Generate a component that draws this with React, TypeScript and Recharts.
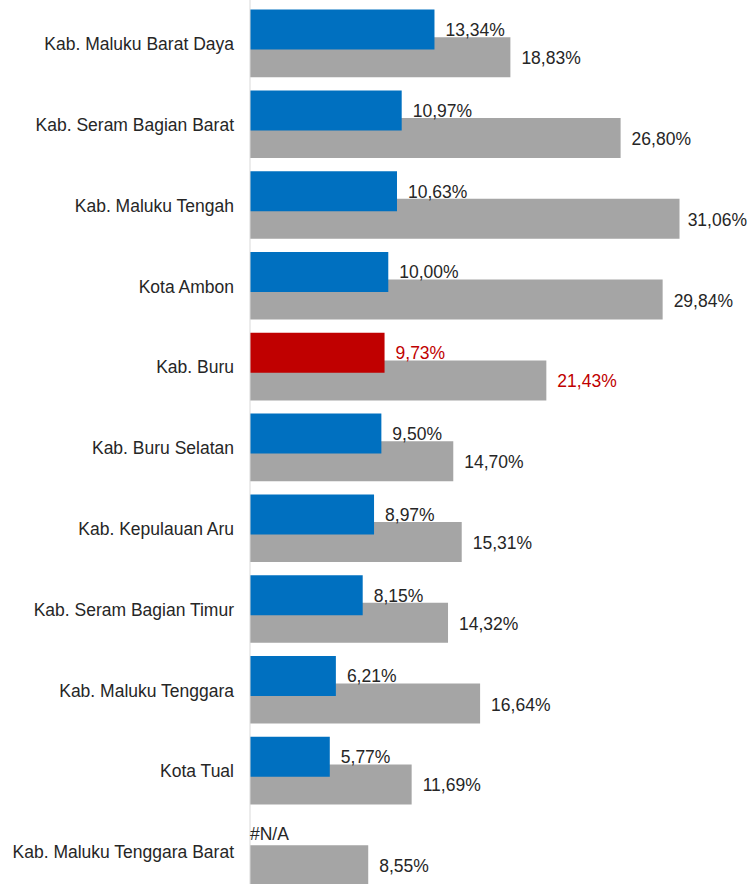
import { BarChart, Bar, XAxis, YAxis, Cell, LabelList } from "recharts";

const categories = [
  "Kab. Maluku Barat Daya",
  "Kab. Seram Bagian Barat",
  "Kab. Maluku Tengah",
  "Kota Ambon",
  "Kab. Buru",
  "Kab. Buru Selatan",
  "Kab. Kepulauan Aru",
  "Kab. Seram Bagian Timur",
  "Kab. Maluku Tenggara",
  "Kota Tual",
  "Kab. Maluku Tenggara Barat",
];

// first series (blue), null = #N/A
const blueValues: (number | null)[] = [
  13.34, 10.97, 10.63, 10.0, 9.73, 9.5, 8.97, 8.15, 6.21, 5.77, null,
];

// second series (gray)
const grayValues = [
  18.83, 26.8, 31.06, 29.84, 21.43, 14.7, 15.31, 14.32, 16.64, 11.69, 8.55,
];

const highlight = "Kab. Buru";

const W = 747;
const H = 884;
const BLUE = "#0070C0";
const RED = "#C00000";
const GRAY = "#A5A5A5";
const TEXT = "#262626";
const FONT = "'Liberation Sans', Arial, sans-serif";
const FS = 17.5;

const chartData = categories.map((name, i) => ({
  name,
  blue: blueValues[i] ?? 0,
  gray: grayValues[i],
}));

const fmt = (v: number) => v.toFixed(2).replace(".", ",") + "%";

// keep a label inside the chart like Excel does
function labelX(start: number, text: string) {
  const approxW = text.length * FS * 0.56;
  return start + approxW > W ? { x: W, anchor: "end" } : { x: start, anchor: "start" };
}

function BlueLabel(props: any) {
  const { x, y, width, height, index } = props;
  const raw = blueValues[index];
  if (raw === null) return null;
  const isHi = categories[index] === highlight;
  const txt = fmt(raw);
  const pos = labelX(Number(x) + Number(width) + 11, txt);
  return (
    <text
      x={pos.x}
      y={Number(y) + Number(height) / 2}
      dy="0.36em"
      textAnchor={pos.anchor}
      fontSize={FS}
      fontFamily={FONT}
      fill={isHi ? RED : TEXT}
    >
      {txt}
    </text>
  );
}

function GrayLabel(props: any) {
  const { x, y, width, height, index } = props;
  const isHi = categories[index] === highlight;
  const cy = Number(y) + Number(height) / 2;
  const txt = fmt(grayValues[index]);
  const pos = labelX(Number(x) + Number(width) + 11, txt);
  return (
    <g>
      <text
        x={pos.x}
        y={cy}
        dy="0.4em"
        textAnchor={pos.anchor}
        fontSize={FS}
        fontFamily={FONT}
        fill={isHi ? RED : TEXT}
      >
        {txt}
      </text>
      {blueValues[index] === null && (
        // Excel shows #N/A where the missing blue bar would be
        <text
          x={Number(x)}
          y={cy - 32}
          dy="0.36em"
          fontSize={FS}
          fontFamily={FONT}
          fill={TEXT}
        >
          #N/A
        </text>
      )}
    </g>
  );
}

export default function App() {
  return (
    <div style={{ width: W, height: H, background: "#fff" }}>
      <style>{`body{margin:0;}`}</style>
      <BarChart
        width={W}
        height={H}
        data={chartData}
        layout="vertical"
        margin={{ top: -20, right: 13, left: 0, bottom: -30 }}
      >
        <XAxis type="number" domain={[0, 35]} hide />
        <YAxis
          yAxisId="cat"
          type="category"
          dataKey="name"
          width={250}
          padding={{ top: 23.5, bottom: 21.7 }}
          axisLine={{ stroke: "#D9D9D9" }}
          tickLine={false}
          tickMargin={10}
          tick={{ fontSize: FS, fill: TEXT, fontFamily: FONT }}
          interval={0}
        />
        <YAxis
          yAxisId="gray"
          type="category"
          dataKey="name"
          hide
          width={0}
          padding={{ top: 37.2, bottom: 8 }}
        />
        <YAxis
          yAxisId="blue"
          type="category"
          dataKey="name"
          hide
          width={0}
          padding={{ top: 9.6, bottom: 35.6 }}
        />

        <Bar
          yAxisId="gray"
          dataKey="gray"
          barSize={40}
          fill={GRAY}
          isAnimationActive={false}
        >
          <LabelList dataKey="gray" content={<GrayLabel />} />
        </Bar>
        <Bar
          yAxisId="blue"
          dataKey="blue"
          barSize={40}
          isAnimationActive={false}
        >
          {chartData.map((d) => (
            <Cell key={d.name} fill={d.name === highlight ? RED : BLUE} />
          ))}
          <LabelList dataKey="blue" content={<BlueLabel />} />
        </Bar>
      </BarChart>
    </div>
  );
}
